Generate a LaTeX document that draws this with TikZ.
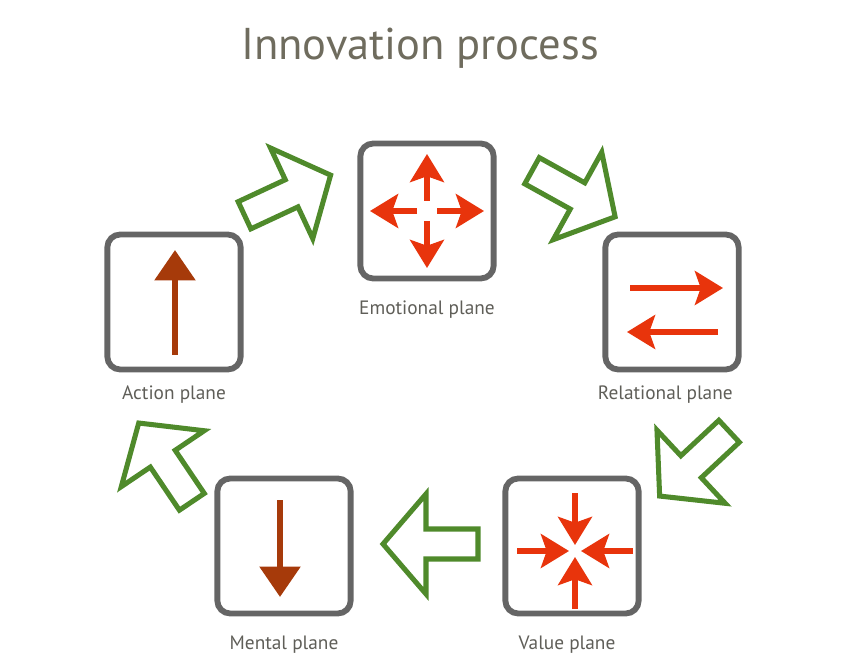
\documentclass[tikz,border=0pt]{standalone}
\usepackage{fontspec}
\setmainfont{PT Sans}
\usetikzlibrary{arrows.meta,positioning,calc}
\definecolor{boxgray}{HTML}{656565}
\definecolor{flowgreen}{HTML}{4F8A2B}
\definecolor{iconred}{HTML}{E8340C}
\definecolor{iconrust}{HTML}{A63A0A}
\definecolor{labelgray}{HTML}{5F5E58}
\definecolor{titlegray}{HTML}{6F6C5E}
\tikzset{
  planebox/.style={
    draw=boxgray,
    line width=5pt,
    rounded corners=11pt,
    minimum width=4.0cm,
    minimum height=4.05cm
  },
  planelabel/.style={
    text=labelgray,
    font=\fontsize{16.5}{18}\selectfont
  },
  flowarrow/.style={
    draw=flowgreen,
    line width=4.3pt,
    line join=miter
  },
  pushred/.style={
    -{Stealth[length=24pt,width=29pt,inset=5pt]},
    draw=iconred,
    line width=4.3pt
  },
  pushrust/.style={
    -{Triangle[length=26pt,width=34pt]},
    draw=iconrust,
    line width=5.5pt
  }
}

\begin{document}
\begin{tikzpicture}[x=0.03cm, y=0.03cm]
\useasboundingbox (0,0) rectangle (842,665);
\node[text=titlegray, font=\fontsize{38}{40}\selectfont] (title) at (420,617) {Innovation process};
% the five planes
\node[planebox] (emotional) at (427,454) {};
\node[planebox] (action) at (174,363) {};
\node[planebox] (relational) at (672,363) {};
\node[planebox] (mental) at (284,119) {};
\node[planebox] (value) at (572,119) {};
\node[planelabel, below=0.45cm of emotional] (emotionaltext) {Emotional plane};
\node[planelabel, below=0.27cm of action] (actiontext) {Action plane};
\node[planelabel, below=0.27cm of relational, xshift=-0.2cm] (relationaltext) {Relational plane};
\node[planelabel, below=0.45cm of mental] (mentaltext) {Mental plane};
\node[planelabel, below=0.45cm of value, xshift=-0.15cm] (valuetext) {Value plane};
% block arrows round the cycle
\foreach \px/\py/\ang in {288/470/25, 574/471/-29, 694/201/-137, 430/121/180, 165/203/124}
  \draw[flowarrow, shift={(\px,\py)}, rotate=\ang]
    (-48,15) -- (4,15) -- (4,50) -- (47,0) -- (4,-50) -- (4,-15) -- (-48,-15) -- cycle;
% icons
\begin{scope}[shift={(emotional.center)}]
  \foreach \ang in {0,90,180,270}
    \draw[pushred] (\ang:10) -- (\ang:57);
\end{scope}
\begin{scope}[shift={($(value.center)+(3,-5)$)}]
  \foreach \ang in {0,90,180,270}
    \draw[pushred] (\ang:58) -- (\ang:6);
\end{scope}
\draw[pushred] ($(relational)+(-42,14)$) -- ($(relational)+(51,14)$);
\draw[pushred] ($(relational)+(46,-30)$) -- ($(relational)+(-45,-30)$);
\draw[pushrust] ($(action)+(1,-53)$) -- ($(action)+(1,52)$);
\draw[pushrust] ($(mental)+(-4,46)$) -- ($(mental)+(-4,-51)$);
\end{tikzpicture}
\end{document}
